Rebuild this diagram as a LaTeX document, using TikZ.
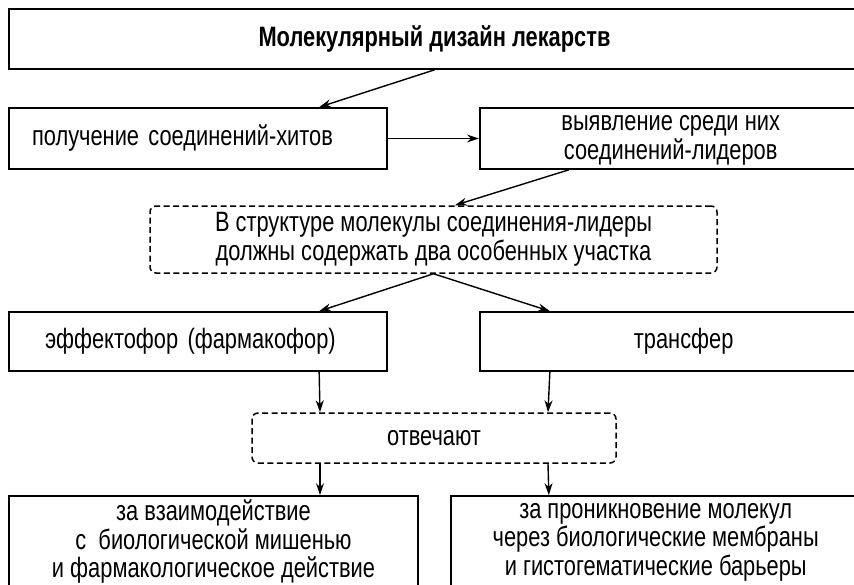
\documentclass[tikz,border=0pt]{standalone}
\usepackage{fontspec}
\setmainfont{Liberation Sans}[FakeStretch=0.78]
\usepackage{tikz}
\usetikzlibrary{arrows.meta, positioning}
\tikzstyle{block} = [rectangle, draw=black, line width=1.7pt, minimum height=61pt, inner sep=0pt, align=center, font=\fontsize{28}{28.5}\selectfont]
\tikzstyle{leftblock} = [block, align=left]
\tikzstyle{note} = [rectangle, rounded corners=6pt, draw=black, line width=1.5pt, dash pattern=on 6pt off 3.5pt, inner sep=0pt, align=center, font=\fontsize{28}{28.5}\selectfont]
\tikzstyle{arrow} = [line width=1.4pt, -{Stealth[length=12pt, width=8pt]}]

\begin{document}
\begin{tikzpicture}[x=1pt, y=-1pt]
\useasboundingbox (0,0) rectangle (854,584);
\node (title) [block, minimum width=851pt, minimum height=60pt, font=\fontsize{28}{28.5}\selectfont\bfseries] at (434.5,39) {Молекулярный дизайн лекарств};
\node (hits) [leftblock, text width=332pt, inner xsep=23pt] at (198,138.5) {получение соединений-хитов};
\node (leaders) [block, minimum width=382pt, right=91pt of hits, text depth=2pt] {выявление среди них\\соединений-лидеров};
\node (structure) [note, minimum width=567pt, minimum height=67pt] at (433.5,239.5) {В структуре молекулы соединения-лидеры\\должны содержать два особенных участка};
\node (effector) [leftblock, minimum height=59pt, text width=306pt, inner xsep=36pt] at (198,341.5) {эффектофор (фармакофор)};
\node (transfer) [block, minimum height=59pt, minimum width=408pt, right=91pt of effector] {трансфер};
\node (respond) [note, minimum width=364pt, minimum height=50pt] at (434,438) {отвечают};
\node (target) [block, minimum width=409pt, minimum height=92pt] at (213.5,542) {за взаимодействие\\с~ биологической мишенью\\и фармакологическое действие};
\node (barrier) [block, minimum width=410pt, minimum height=92pt, right=31pt of target] {за проникновение молекул\\через биологические мембраны\\и гистогематические барьеры};

\draw [arrow] (title.south) -- ([xshift=311pt]hits.north west);
\draw [arrow] (hits.east) -- (leaders.west);
\draw [arrow] ([xshift=-102pt]leaders.south) -- ([xshift=21.5pt]structure.north);
\draw [arrow] (structure.south) -- ([xshift=311pt]effector.north west);
\draw [arrow] (structure.south) -- ([xshift=71pt]transfer.north west);
\draw [arrow] ([xshift=311pt]effector.south west) -- ([xshift=-114pt]respond.north);
\draw [arrow] ([xshift=71pt]transfer.south west) -- ([xshift=114pt]respond.north);
\draw [arrow] ([xshift=-114pt]respond.south) -- ([xshift=106.5pt]target.north);
\draw [arrow] ([xshift=114pt]respond.south) -- ([xshift=99pt]barrier.north west);
\end{tikzpicture}
\end{document}
